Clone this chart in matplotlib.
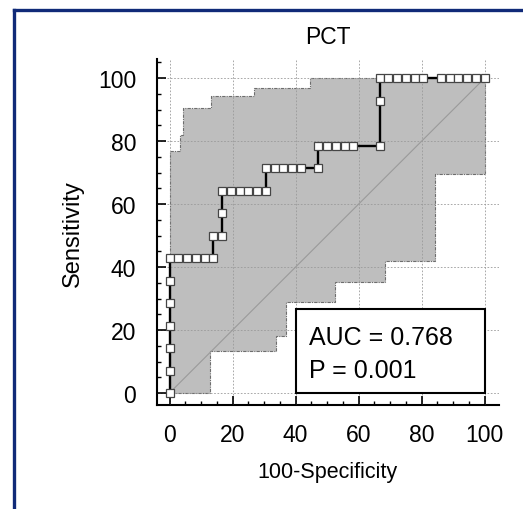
import matplotlib
matplotlib.use("Agg")
import matplotlib.pyplot as plt
from matplotlib.patches import Polygon, Rectangle
from matplotlib.lines import Line2D
from matplotlib.ticker import MultipleLocator

plt.rcParams['font.family'] = ['Liberation Sans', 'DejaVu Sans']

# ROC curve points (100-Specificity, Sensitivity)
fpr = [0, 0, 0, 0, 0, 0, 0,
       2.78, 5.56, 8.33, 11.11, 13.89,
       13.89, 16.67,
       16.67, 16.67,
       19.44, 22.22, 25.0, 27.78, 30.56,
       30.56,
       33.33, 36.11, 38.89, 41.67, 47.22,
       47.22,
       50.0, 52.78, 55.56, 58.33, 66.67,
       66.67, 66.67,
       69.44, 72.22, 75.0, 77.78, 80.56, 86.11, 88.89, 91.67, 94.44, 97.22, 100]
tpr = [0, 7.14, 14.29, 21.43, 28.57, 35.71, 42.86,
       42.86, 42.86, 42.86, 42.86, 42.86,
       50, 50,
       57.14, 64.29,
       64.29, 64.29, 64.29, 64.29, 64.29,
       71.43,
       71.43, 71.43, 71.43, 71.43, 71.43,
       78.57,
       78.57, 78.57, 78.57, 78.57, 78.57,
       92.86, 100,
       100, 100, 100, 100, 100, 100, 100, 100, 100, 100, 100]

# 95% confidence band (step functions)
ci_up_x = [0, 3.2, 4.4, 13.3, 26.7, 44.5, 100]
ci_up_y = [76.7, 81.9, 90.6, 94.2, 96.9, 100]
ci_lo_x = [0, 12.9, 33.9, 37, 52.4, 68.5, 84.3, 100]
ci_lo_y = [0, 13.2, 18, 28.8, 35.1, 42, 69.5]

auc_txt = "AUC = 0.768"
p_txt = "P = 0.001"


def stairs(xs, ys):
    pts = []
    for i, y in enumerate(ys):
        pts.append((xs[i], y))
        pts.append((xs[i + 1], y))
    return pts


fig = plt.figure(figsize=(5.23, 5.10), dpi=100)
ax = fig.add_axes([0.300, 0.204, 0.654, 0.678])

band = stairs(ci_up_x, ci_up_y) + stairs(ci_lo_x, ci_lo_y)[::-1]
ax.add_patch(Polygon(band, closed=True, facecolor='#bebebe', edgecolor='#6e6e6e',
                     linestyle=(0, (3, 1, 1, 1)), linewidth=0.8, zorder=1))

ax.plot([0, 100], [0, 100], color='#9a9a9a', linewidth=0.8, zorder=2)
ax.plot(fpr, tpr, color='black', linewidth=1.7, marker='s', markersize=6.4,
        markerfacecolor='white', markeredgecolor='#454545', markeredgewidth=0.9, zorder=3)

ax.add_patch(Rectangle((40.2, 0), 59.8, 26.7, facecolor='white', edgecolor='black',
                       linewidth=1.5, zorder=4))
ax.text(44.2, 15.6, auc_txt, fontsize=18, va='baseline', zorder=5)
ax.text(44.2, 5.1, p_txt, fontsize=18, va='baseline', zorder=5)

ax.set_xlim(-4, 104.5)
ax.set_ylim(-3.8, 106)
ax.set_xticks(range(0, 101, 20))
ax.set_yticks(range(0, 101, 20))
ax.xaxis.set_minor_locator(MultipleLocator(5))
ax.yaxis.set_minor_locator(MultipleLocator(5))
ax.tick_params(which='major', direction='in', length=6.5, width=1.2, labelsize=16.5)
ax.tick_params(axis='x', which='major', pad=13)
ax.tick_params(axis='y', which='major', pad=15)
ax.tick_params(which='minor', direction='in', length=3.2, width=1.0)
ax.spines['top'].set_visible(False)
ax.spines['right'].set_visible(False)
ax.spines['left'].set_linewidth(1.5)
ax.spines['bottom'].set_linewidth(1.5)
ax.set_axisbelow(False)
ax.grid(True, which='major', color='#9a9a9a', linestyle=(0, (2, 2)), linewidth=0.6)

ax.set_title("PCT", fontsize=16.5, pad=12)
ax.set_xlabel("100-Specificity", fontsize=15.5, labelpad=11)
ax.set_ylabel("Sensitivity", fontsize=17, labelpad=10)

# frame around the figure (only left and top visible in the reference)
fig.add_artist(Line2D([14 / 523, 14 / 523], [0, 1 - 11 / 510], color='#102a78', linewidth=2.4))
fig.add_artist(Line2D([14 / 523, 1], [1 - 11 / 510, 1 - 11 / 510], color='#102a78', linewidth=2.4))

fig.savefig("out.png", dpi=100)
